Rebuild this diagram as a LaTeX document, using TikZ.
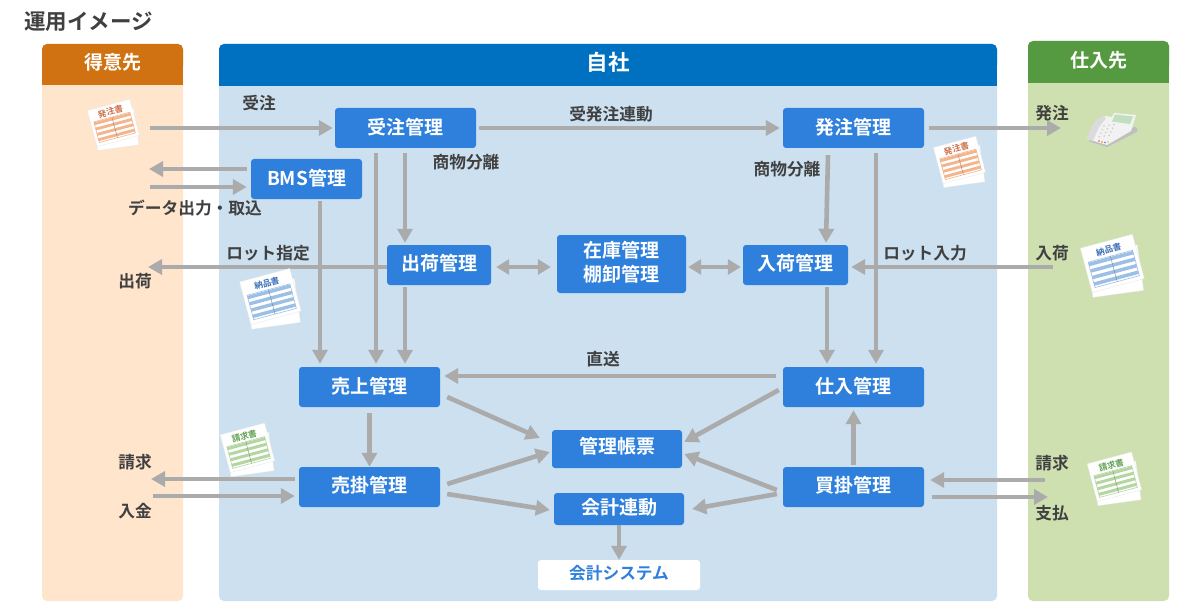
\documentclass[tikz,border=0pt]{standalone}
\usepackage{fontspec}
\setmainfont{Noto Sans CJK JP}[BoldFont={* Bold}]
\usetikzlibrary{arrows.meta}
\definecolor{orhead}{HTML}{D07112}
\definecolor{orpanel}{HTML}{FFE5CC}
\definecolor{blhead}{HTML}{0070C0}
\definecolor{blpanel}{HTML}{CCE0F0}
\definecolor{grhead}{HTML}{559940}
\definecolor{grpanel}{HTML}{CFE0B0}
\definecolor{boxblue}{HTML}{2E80DC}
\definecolor{flowgray}{HTML}{ABABAB}
\definecolor{inkgray}{HTML}{404040}
\definecolor{docred}{HTML}{F4B48C}
\definecolor{docredtx}{HTML}{D0704A}
\definecolor{docblue}{HTML}{9CBFE6}
\definecolor{docbluetx}{HTML}{3A70B8}
\definecolor{docgreen}{HTML}{B4D6A0}
\definecolor{docgreentx}{HTML}{5FA050}
\newcommand{\fsz}[1]{\fontsize{#1pt}{#1pt}\selectfont\bfseries}
\newcommand{\up}[2]{\raisebox{#1pt}[16.7pt][2.3pt]{#2}}
\tikzset{
  x=1pt,y=-1pt,
  flow/.style={draw=flowgray,line width=4.6pt,-{Triangle[length=14pt,width=15pt]}},
  flowtwo/.style={draw=flowgray,line width=4.6pt,{Triangle[length=13pt,width=15pt]}-{Triangle[length=13pt,width=15pt]}},
  boxnode/.style={fill=boxblue,rounded corners=3pt,text=white,inner sep=0pt,align=center,font=\fsz{19}},
  lab/.style={text=inkgray,inner sep=0pt,font=\fsz{16.7}},
  headtext/.style={text=white,inner sep=0pt,font=\fsz{19}},
}
% x y scale colour textcolour label
\newcommand{\docsheet}[6]{%
  \begin{scope}[shift={(#1,#2)},scale=#3]
    \fill[white,draw=black!10,line width=.3pt,rotate=8] (-18,-13) rectangle (20,21);
    \begin{scope}[rotate=15]
      \fill[white,draw=black!10,line width=.3pt] (-20,-19) rectangle (20,15);
      \node[rotate=15,text=#5,inner sep=0pt,font=\fsz{8.5}] at (0,-12.5) {#6};
      \foreach \yy in {-7,-2,3,8} {\fill[#4] (-17,\yy) rectangle (17,\yy+2.6);}
      \draw[#4,line width=.6pt] (-17,-7.5) rectangle (17,12);
      \draw[#4!70!black,line width=.4pt] (0,-7.5) -- (0,12);
    \end{scope}
  \end{scope}}
\begin{document}
\begin{tikzpicture}
\useasboundingbox (0,0) rectangle (1200,615);
\fill[white] (0,0) rectangle (1200,615);
\node[anchor=west,lab,font=\fsz{21.5}] (title) at (24,22) {運用イメージ};

% panels
\fill[orpanel,rounded corners=5pt] (42,44) rectangle (183,601);
\fill[orhead,rounded corners=5pt] (42,44) rectangle (183,70);
\fill[orhead] (42,60) rectangle (183,85);
\fill[blpanel,rounded corners=5pt] (219,44) rectangle (997,601);
\fill[blhead,rounded corners=5pt] (219,44) rectangle (997,70);
\fill[blhead] (219,60) rectangle (997,86);
\fill[grpanel,rounded corners=5pt] (1028,41) rectangle (1169,601);
\fill[grhead,rounded corners=5pt] (1028,41) rectangle (1169,70);
\fill[grhead] (1028,60) rectangle (1169,83);
\node[headtext] (hcust) at (112.5,62) {得意先};
\node[headtext,font=\fsz{21.5}] (hself) at (608,62) {自社};
\node[headtext] (hsupp) at (1098.5,60) {仕入先};

% boxes
\node[boxnode,minimum width=141pt,minimum height=40pt] (juchu) at (405.5,128) {\up{1}{受注管理}};
\node[boxnode,minimum width=141pt,minimum height=40pt] (hatchu) at (853.5,128) {\up{1}{発注管理}};
\node[boxnode,minimum width=111pt,minimum height=40pt] (bms) at (306.5,179) {\up{1}{BMS管理}};
\node[boxnode,minimum width=104pt,minimum height=40pt] (shukka) at (439,265) {\up{1.5}{出荷管理}};
\node[boxnode,minimum width=129pt,minimum height=58pt] (zaiko) at (621.5,264) {\up{2}{在庫管理}\\[5pt]\up{2}{棚卸管理}};
\node[boxnode,minimum width=105pt,minimum height=40pt] (nyuka) at (795.5,265) {\up{1.5}{入荷管理}};
\node[boxnode,minimum width=141pt,minimum height=40pt] (uriage) at (369.5,387) {\up{1}{売上管理}};
\node[boxnode,minimum width=141pt,minimum height=40pt] (shiire) at (853.5,387) {\up{1}{仕入管理}};
\node[boxnode,minimum width=130pt,minimum height=38pt] (chohyo) at (617,449) {\up{3}{管理帳票}};
\node[boxnode,minimum width=141pt,minimum height=40pt] (urikake) at (369.5,487) {\up{2}{売掛管理}};
\node[boxnode,minimum width=141pt,minimum height=40pt] (kaikake) at (853.5,487) {\up{2}{買掛管理}};
\node[boxnode,minimum width=130pt,minimum height=32pt] (kaikei) at (619,509) {\up{2}{会計連動}};
\node[boxnode,fill=white,text=boxblue,minimum width=162pt,minimum height=30pt,font=\fsz{16.7}] (system) at (619,575) {\up{3}{会計システム}};

% free ends
\coordinate (cOrder) at (150,128);
\coordinate (cPhone) at (1061,128);
\coordinate (cBmsOut) at (149,169);
\coordinate (cBmsIn) at (150,187);
\coordinate (cShip) at (148,267);
\coordinate (cArrive) at (1053,267);
\coordinate (cBill) at (151,479);
\coordinate (cPay) at (153,496);
\coordinate (cSBill) at (1045,480);
\coordinate (cSPay) at (1048,497);

% connectors
\draw[flow] (cOrder) -- ([xshift=-2pt]juchu.west);
\draw[flow] ([xshift=3pt]juchu.east) -- ([xshift=-3pt]hatchu.west);
\draw[flow] ([xshift=5pt]hatchu.east) -- (cPhone);
\draw[flow] ([shift={(-4,-10)}]bms.west) -- (cBmsOut);
\draw[flow] (cBmsIn) -- ([shift={(-4,8)}]bms.west);
\draw[flow] ([shift={(13.5,2)}]bms.south) -- ([shift={(-49.5,-3)}]uriage.north);
\draw[flow] ([shift={(-29.5,5)}]juchu.south) -- ([shift={(6.5,-3)}]uriage.north);
\draw[flow] ([shift={(-0.5,5)}]juchu.south) -- ([shift={(-34,-2)}]shukka.north);
\draw[flow] ([shift={(0,2)}]shukka.west) -- (cShip);
\draw[flow] ([shift={(-34,2)}]shukka.south) -- ([shift={(35.5,-3)}]uriage.north);
\draw[flowtwo] ([shift={(5,2)}]shukka.east) -- ([shift={(-6,3)}]zaiko.west);
\draw[flowtwo] ([shift={(2,3)}]zaiko.east) -- ([shift={(-2,2)}]nyuka.west);
\draw[flow] (cArrive) -- ([shift={(3,2)}]nyuka.east);
\draw[flow] ([shift={(-25.5,7)}]hatchu.south) -- ([shift={(30.5,-2)}]nyuka.north);
\draw[flow] ([shift={(22.5,5)}]hatchu.south) -- ([shift={(22.5,-3)}]shiire.north);
\draw[flow] ([shift={(31.5,2)}]nyuka.south) -- ([shift={(-26.5,-3)}]shiire.north);
\draw[flow] ([shift={(-7,-11)}]shiire.west) -- ([shift={(4,-11)}]uriage.east);
\draw[flow] ([shift={(0,6)}]uriage.south) -- (urikake.north);
\draw[flow] ([shift={(7,10)}]uriage.east) -- ([shift={(-12,-11)}]chohyo.west);
\draw[flow] ([shift={(-4,3)}]shiire.west) -- ([shift={(2,-7)}]chohyo.east);
\draw[flow] ([shift={(0,-2)}]kaikake.north) -- ([shift={(0,3)}]shiire.south);
\draw[flow] ([shift={(-6,3)}]kaikake.west) -- ([shift={(2,5)}]chohyo.east);
\draw[flow] ([shift={(-6,7)}]kaikake.west) -- ([xshift=8pt]kaikei.east);
\draw[flow] ([shift={(7,-3)}]urikake.east) -- ([shift={(-2,3)}]chohyo.west);
\draw[flow] ([shift={(7,7)}]urikake.east) -- ([shift={(-4,1)}]kaikei.west);
\draw[flow] (kaikei.south) -- (system.north);
\draw[flow] ([shift={(-4,-8)}]urikake.west) -- (cBill);
\draw[flow] (cPay) -- ([shift={(-4,9)}]urikake.west);
\draw[flow] (cSBill) -- ([shift={(6,-7)}]kaikake.east);
\draw[flow] ([shift={(8,10)}]kaikake.east) -- (cSPay);

% labels
\node[lab] (l1) at (259,103) {受注};
\node[lab] (l2) at (611,114) {受発注連動};
\node[lab] (l3) at (1052,113) {発注};
\node[lab] (l4) at (466,162) {商物分離};
\node[lab] (l5) at (787,169) {商物分離};
\node[lab] (l6) at (195,208) {データ出力・取込};
\node[lab] (l7) at (268,253) {ロット指定};
\node[lab] (l8) at (925,253) {ロット入力};
\node[lab] (l9) at (1052,253) {入荷};
\node[lab] (l10) at (135,281) {出荷};
\node[lab] (l11) at (603,359) {直送};
\node[lab] (l12) at (135,462) {請求};
\node[lab] (l13) at (135,511) {入金};
\node[lab] (l14) at (1052,463) {請求};
\node[lab] (l15) at (1052,513) {支払};

% documents
\docsheet{114}{125}{1.1}{docred}{docredtx}{発注書}
\docsheet{960}{162}{1.1}{docred}{docredtx}{発注書}
\docsheet{271}{299}{1.3}{docblue}{docbluetx}{納品書}
\docsheet{1113}{266}{1.35}{docblue}{docbluetx}{納品書}
\docsheet{248}{450}{1.15}{docgreen}{docgreentx}{請求書}
\docsheet{1115}{479}{1.15}{docgreen}{docgreentx}{請求書}

% telephone
\fill[black!25] (1088,141) -- (1107,147) -- (1131,135) -- (1138,131) -- (1136,127) -- (1130,128) -- cycle;
\fill[black!5] (1087,139) .. controls (1092,125) and (1098,117) .. (1105,116)
  -- (1112,117) -- (1114,113) -- (1136,115) -- (1131,131) -- (1107,145) -- cycle;
\fill[black!14] (1087,139) .. controls (1090,127) and (1096,117) .. (1104,116) .. controls (1106,117) and (1106,119) .. (1105,120) .. controls (1100,124) and (1096,133) .. (1093,141) -- cycle;
\fill[black!50!green!25!white] (1115,114.5) -- (1133,116.5) -- (1130,124) -- (1112,121.5) -- cycle;
\foreach \i in {0,1,2} \foreach \j in {0,1,2,3}
  \fill[black!20] (1104+\i*5+\j*-1.6,126+\j*3.6-\i*.7) circle (.9pt);
\fill[red!70] (1099,141) circle (.8pt);
\fill[orange] (1102,142) circle (.8pt);
\fill[blue!60] (1105,142.5) circle (.8pt);
\fill[yellow!80!black] (1108,142) circle (.8pt);
\end{tikzpicture}
\end{document}
